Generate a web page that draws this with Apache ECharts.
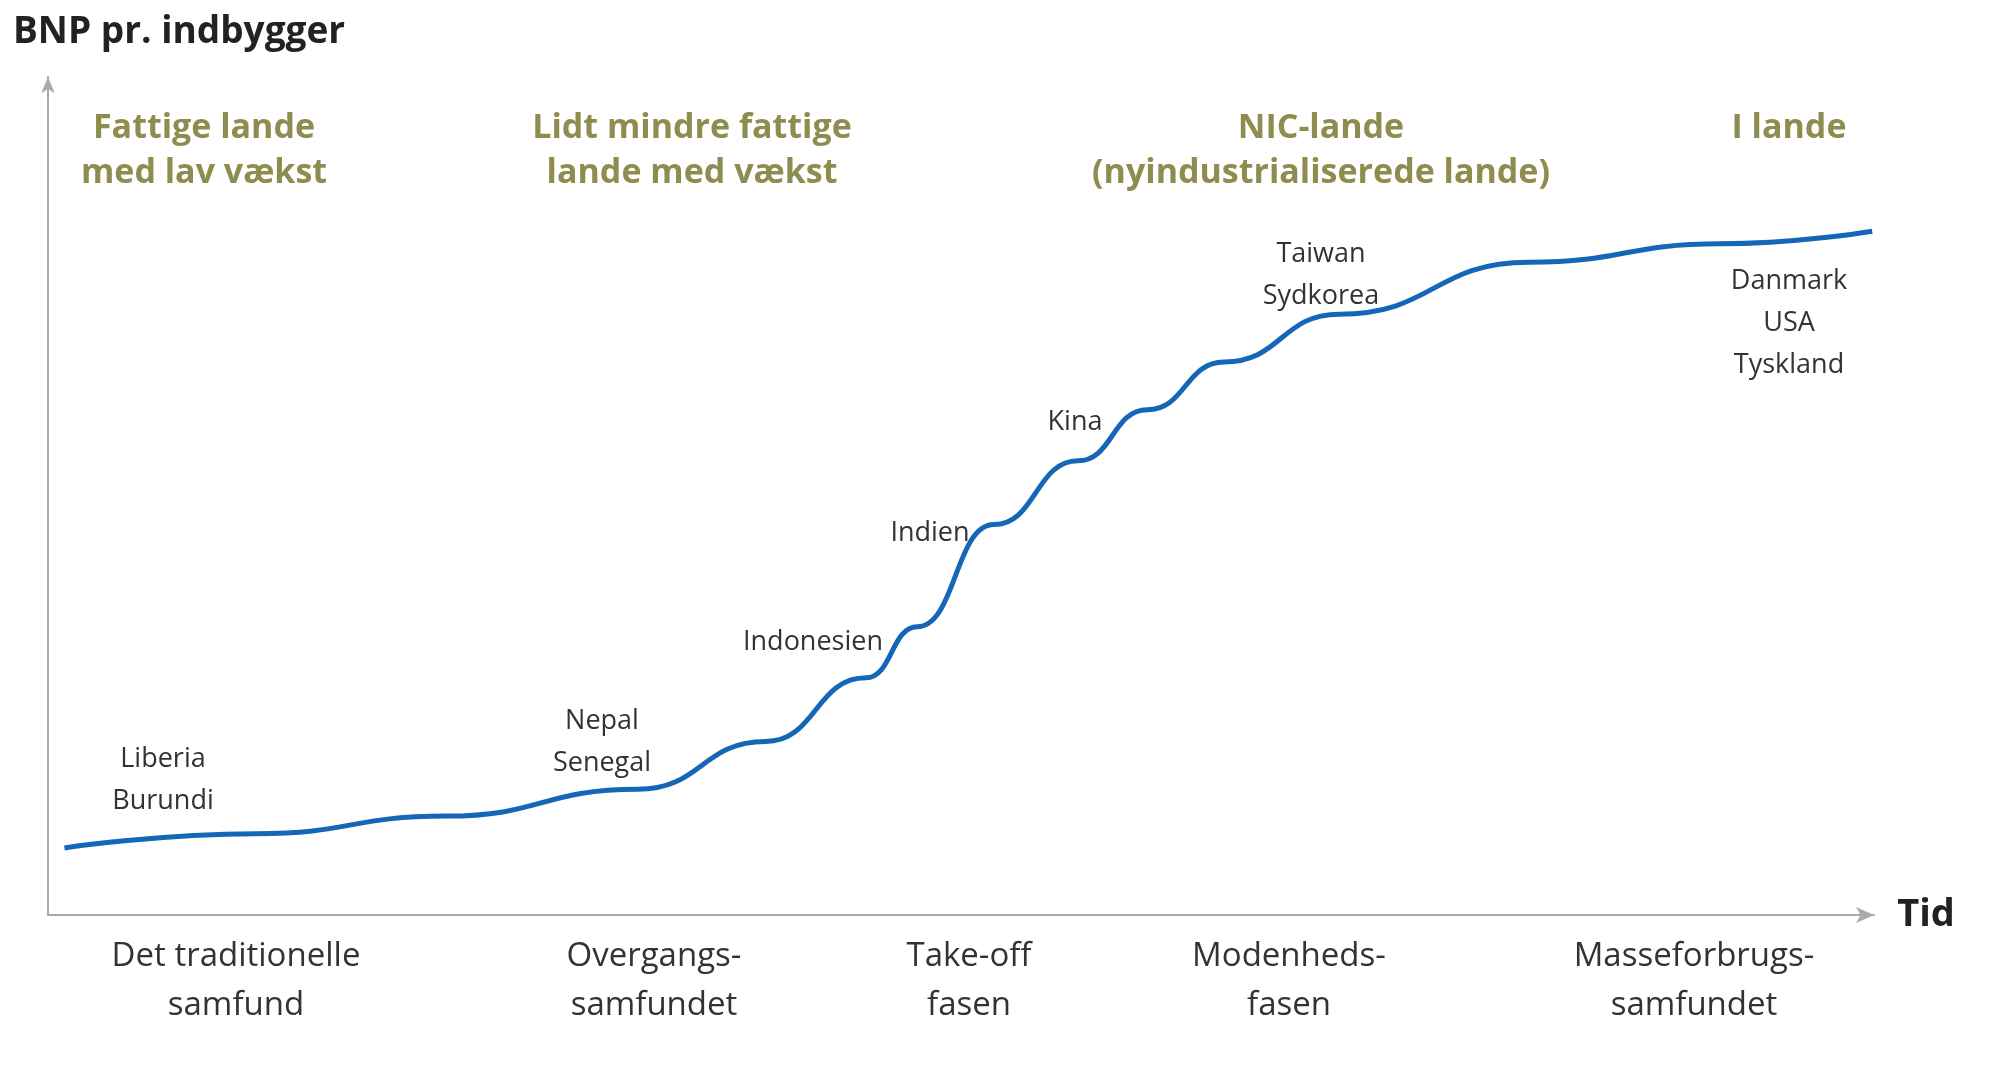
<!DOCTYPE html>
<html>
<head>
<meta charset="utf-8">
<script src="https://cdn.jsdelivr.net/npm/echarts@6/dist/echarts.min.js"></script>
<style>html,body{margin:0;background:#fff}#chart{width:2000px;height:1069px}</style>
</head>
<body>
<div id="chart"></div>
<script>
// kurvens punkter (tid, BNP) i vilkaarlige enheder 0-100
var tid = [0.9, 11.4, 21.8, 32.3, 39.3, 44.8, 47.6, 51.8, 56.4, 60.2, 64.4, 70.7, 81.1, 91.6, 99.9]
var bnp = [8.0, 9.7, 11.8, 15.0, 20.7, 28.3, 34.4, 46.6, 54.2, 60.3, 66.0, 71.7, 77.9, 80.1, 81.6]
// skillelinjer mellem faserne
var faseGraenser = [21.8, 44.7, 56.4, 79.2]
var stiplede = [[44.7, 27.5], [56.4, 54.2]]
var faser = ['Det traditionelle\nsamfund', 'Overgangs-\nsamfundet', 'Take-off\nfasen', 'Modenheds-\nfasen', 'Masseforbrugs-\nsamfundet']
var grupper = ['Fattige lande\nmed lav vækst', 'Lidt mindre fattige\nlande med vækst', 'NIC-lande\n(nyindustrialiserede lande)', 'I lande']
var lande = ['Liberia\nBurundi', 'Nepal\nSenegal', 'Indonesien', 'Indien', 'Kina', 'Taiwan\nSydkorea', 'Danmark\nUSA\nTyskland']

var data = []
for (var i = 0; i < tid.length; i++) data.push([tid[i], bnp[i]])

var fontF = '"Open Sans", Lato, sans-serif'
var faseX = [236, 654, 969, 1289, 1694]
var gruppeX = [204, 692, 1321, 1789]
var landPos = [[163, 754], [602, 716], [813, 637], [930, 528], [1075, 417], [1321, 249], [1789, 276]]

var graphic = []
graphic.push({type: 'text', left: 13, top: 14, style: {text: 'BNP pr. indbygger', font: 'bold 37px ' + fontF, fill: '#222'}})
graphic.push({type: 'text', x: 1926, y: 915, style: {text: 'Tid', font: 'bold 38px ' + fontF, fill: '#222', align: 'center', verticalAlign: 'middle'}})
for (var g = 0; g < grupper.length; g++) {
    graphic.push({type: 'text', x: gruppeX[g], y: 106, style: {text: grupper[g], font: 'bold 34px ' + fontF, fill: '#8e8c4e', align: 'center', lineHeight: 45}})
}
for (var f = 0; f < faser.length; f++) {
    graphic.push({type: 'text', x: faseX[f], y: 932, style: {text: faser[f], font: '33px ' + fontF, fill: '#333', align: 'center', lineHeight: 49}})
}
for (var l = 0; l < lande.length; l++) {
    graphic.push({type: 'text', x: landPos[l][0], y: landPos[l][1] - 16, style: {text: lande[l], font: '27px ' + fontF, fill: '#333', align: 'center', lineHeight: 42}})
}

var markData = []
for (var k = 0; k < faseGraenser.length; k++) {
    markData.push([{coord: [faseGraenser[k], -1.4], lineStyle: {type: 'solid'}}, {coord: [faseGraenser[k], 1.4]}])
}
for (var d = 0; d < stiplede.length; d++) {
    markData.push([{coord: [stiplede[d][0], -1.4]}, {coord: [stiplede[d][0], stiplede[d][1]]}])
}

var chart = echarts.init(document.getElementById('chart'))
chart.setOption({
    backgroundColor: '#fff',
    animation: false,
    grid: {left: 48, right: 126, top: 77, bottom: 154},
    graphic: graphic,
    xAxis: {type: 'value', min: 0, max: 100, axisLine: {onZero: false, symbol: ['none', 'arrow'], symbolSize: [12, 18], lineStyle: {color: '#aaa', width: 2}}, axisTick: {show: false}, axisLabel: {show: false}, splitLine: {show: false}},
    yAxis: {type: 'value', min: 0, max: 100, axisLine: {show: true, symbol: ['none', 'arrow'], symbolSize: [10, 16], lineStyle: {color: '#aaa', width: 2}}, axisTick: {show: false}, axisLabel: {show: false}, splitLine: {show: false}},
    series: [{
        type: 'line',
        data: data,
        smooth: true,
        smoothMonotone: 'x',
        clip: false,
        showSymbol: false,
        lineStyle: {color: '#1666b8', width: 5},
        markLine: {symbol: 'none', silent: true, label: {show: false}, lineStyle: {color: '#aaa', width: 2, type: [5, 5]}, data: markData}
    }]
})
</script>
</body>
</html>
